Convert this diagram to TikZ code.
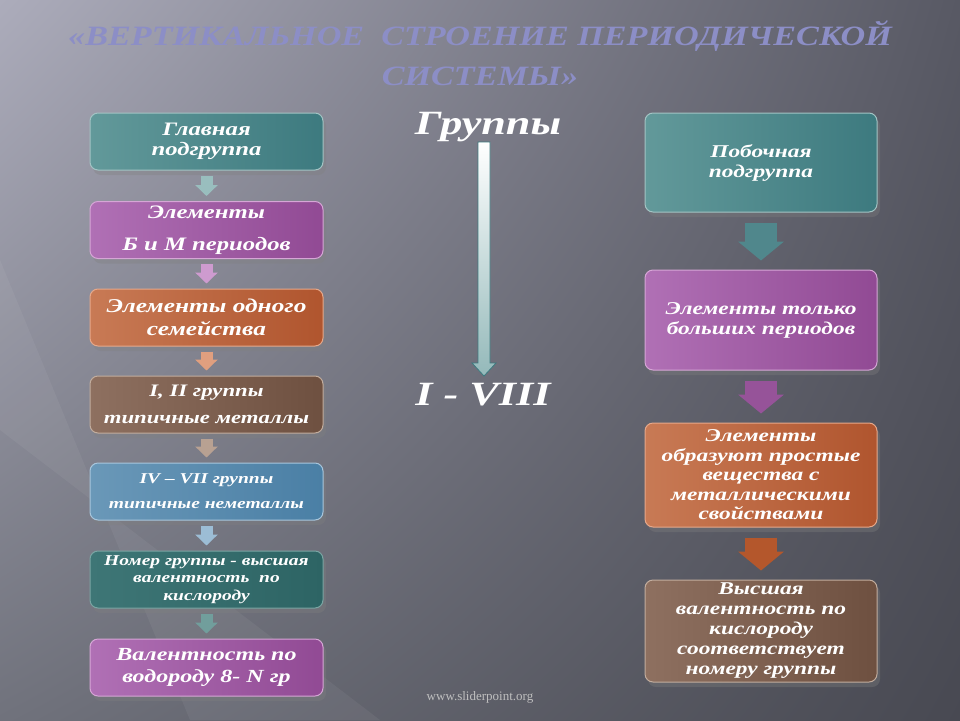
\documentclass[tikz,border=0pt]{standalone}
\usepackage{fontspec}
\setmainfont{Liberation Serif}
\newfontfamily\slabfont[FakeStretch=1.3]{Liberation Serif}
\newfontfamily\titlefont[FakeStretch=1.22]{Liberation Serif}
\usetikzlibrary{shadows,shadings,arrows.meta}

\definecolor{bgUL}{RGB}{172,172,187}
\definecolor{bgUR}{RGB}{88,89,100}
\definecolor{bgLL}{RGB}{112,114,124}
\definecolor{bgLR}{RGB}{72,73,82}
\definecolor{titlecol}{RGB}{140,142,198}
\definecolor{tealD}{RGB}{61,122,127}
\definecolor{tealM}{RGB}{98,153,154}
\definecolor{tealL}{RGB}{163,196,196}
\definecolor{purpD}{RGB}{145,74,148}
\definecolor{purpM}{RGB}{176,112,181}
\definecolor{purpL}{RGB}{214,166,214}
\definecolor{orD}{RGB}{176,85,46}
\definecolor{orM}{RGB}{200,122,85}
\definecolor{orL}{RGB}{230,168,138}
\definecolor{brD}{RGB}{110,80,64}
\definecolor{brM}{RGB}{142,112,96}
\definecolor{brL}{RGB}{194,173,158}
\definecolor{blD}{RGB}{74,127,165}
\definecolor{blM}{RGB}{106,152,184}
\definecolor{blL}{RGB}{168,198,220}
\definecolor{dtD}{RGB}{45,100,100}
\definecolor{dtM}{RGB}{62,118,118}
\definecolor{dtL}{RGB}{122,165,163}

\tikzset{
  box/.style={rounded corners=8pt, align=center, text=white, inner sep=2pt,
    line width=1pt, drop shadow={shadow xshift=3pt, shadow yshift=-5pt, opacity=0.35}},
  lbox/.style={box, minimum width=233pt, minimum height=57pt},
  rbox/.style={box, minimum width=232pt},
  tealbox/.style={draw=tealL, left color=tealM, middle color=tealL, right color=tealD},
  purpbox/.style={draw=purpL, left color=purpM, middle color=purpL, right color=purpD},
  orbox/.style={draw=orL, left color=orM, middle color=orL, right color=orD},
  brbox/.style={draw=brL, left color=brM, middle color=brL, right color=brD},
  blbox/.style={draw=blL, left color=blM, middle color=blL, right color=blD},
  dtbox/.style={draw=dtL, left color=dtM, middle color=dtL, right color=dtD},
  fs/.style 2 args={font=\slabfont\bfseries\itshape\fontsize{#1}{#2}\selectfont},
  smallarr/.style={line width=12pt, draw=#1, shorten <=5pt, shorten >=5pt,
    -{Triangle[width=22pt,length=11pt]}},
  bigarr/.style={line width=32pt, draw=#1, shorten <=10pt, shorten >=9pt,
    -{Triangle[width=45pt,length=19pt]}},
}

\begin{document}
\begin{tikzpicture}[x=1pt,y=-1pt]
% background
\shade[upper left=bgUL, upper right=bgUR, lower left=bgLL, lower right=bgLR]
  (0,0) rectangle (960,720);
\fill[white,opacity=0.05] (0,260) -- (0,430) -- (380,720) -- (190,720) -- cycle;
\useasboundingbox (0,0) rectangle (960,720);

% title
\node[align=center, text=titlecol,
  font=\titlefont\bfseries\itshape\fontsize{28}{40}\selectfont] (title) at (480,53)
  {«ВЕРТИКАЛЬНОЕ~~СТРОЕНИЕ ПЕРИОДИЧЕСКОЙ\\СИСТЕМЫ»};

% left column
\node[lbox, tealbox, fs={19}{20}] (g1) at (206.5,141.5) {Главная\\подгруппа};
\node[lbox, purpbox, fs={19}{32}] (g2) at (206.5,230) {Элементы\\Б и М периодов};
\node[lbox, orbox, fs={19.5}{23}] (g3) at (206.5,317.5) {Элементы одного\\семейства};
\node[lbox, brbox, fs={17.5}{27}] (g4) at (206.5,404.5) {I, II группы\\типичные металлы};
\node[lbox, blbox, fs={15}{25}] (g5) at (206.5,491.5) {IV – VII группы\\типичные неметаллы};
\node[lbox, dtbox, fs={15}{17.5}] (g6) at (206.5,579.5)
  {Номер группы - высшая\\валентность~~по\\кислороду};
\node[lbox, purpbox, fs={18.5}{22}] (g7) at (206.5,667.5) {Валентность по\\водороду 8- N гр};

\draw[smallarr=tealL!85!tealM] (g1) -- (g2);
\draw[smallarr=purpL!80!purpM] (g2) -- (g3);
\draw[smallarr=orL!80!orM] (g3) -- (g4);
\draw[smallarr=brL!80!brM] (g4) -- (g5);
\draw[smallarr=blL!80!blM] (g5) -- (g6);
\draw[smallarr=dtL!85!dtM] (g6) -- (g7);

% middle
\node[text=white, font=\slabfont\bfseries\itshape\fontsize{34}{40}\selectfont]
  (grp) at (488,127) {Группы};
\node[text=white, font=\slabfont\bfseries\itshape\fontsize{34}{40}\selectfont]
  (rom) at (483,395) {I - VIII};
\coordinate (atop) at (484,142);
\coordinate (abot) at (484,376);
\draw[tealD, line width=0.8pt, top color=white, bottom color=tealL!85!tealD]
  ([xshift=-6pt]atop) -- ([xshift=6pt]atop) -- ([xshift=6pt,yshift=13pt]abot)
  -- ([xshift=12pt,yshift=13pt]abot) -- (abot) -- ([xshift=-12pt,yshift=13pt]abot)
  -- ([xshift=-6pt,yshift=13pt]abot) -- cycle;

% right column
\node[rbox, tealbox, minimum height=99pt, fs={18}{20}] (r1) at (761,162.5)
  {Побочная\\подгруппа};
\node[rbox, purpbox, minimum height=100pt, fs={18}{20}] (r2) at (761,320)
  {Элементы только\\больших периодов};
\node[rbox, orbox, minimum height=104pt, fs={18}{19.5}] (r3) at (761,475)
  {Элементы\\образуют простые\\вещества с\\металлическими\\свойствами};
\node[rbox, brbox, minimum height=102pt, fs={18}{20}] (r4) at (761,631)
  {Высшая\\валентность по\\кислороду\\соответствует\\номеру группы};

\draw[bigarr=tealD!90!white] (r1) -- (r2);
\draw[bigarr=purpD!95!white] (r2) -- (r3);
\draw[bigarr=orD!95!orange] (r3) -- (r4);

% watermark
\node[text=black!25!white, font=\fontsize{13}{15}\selectfont] (site) at (480,697)
  {www.sliderpoint.org};
\end{tikzpicture}
\end{document}
